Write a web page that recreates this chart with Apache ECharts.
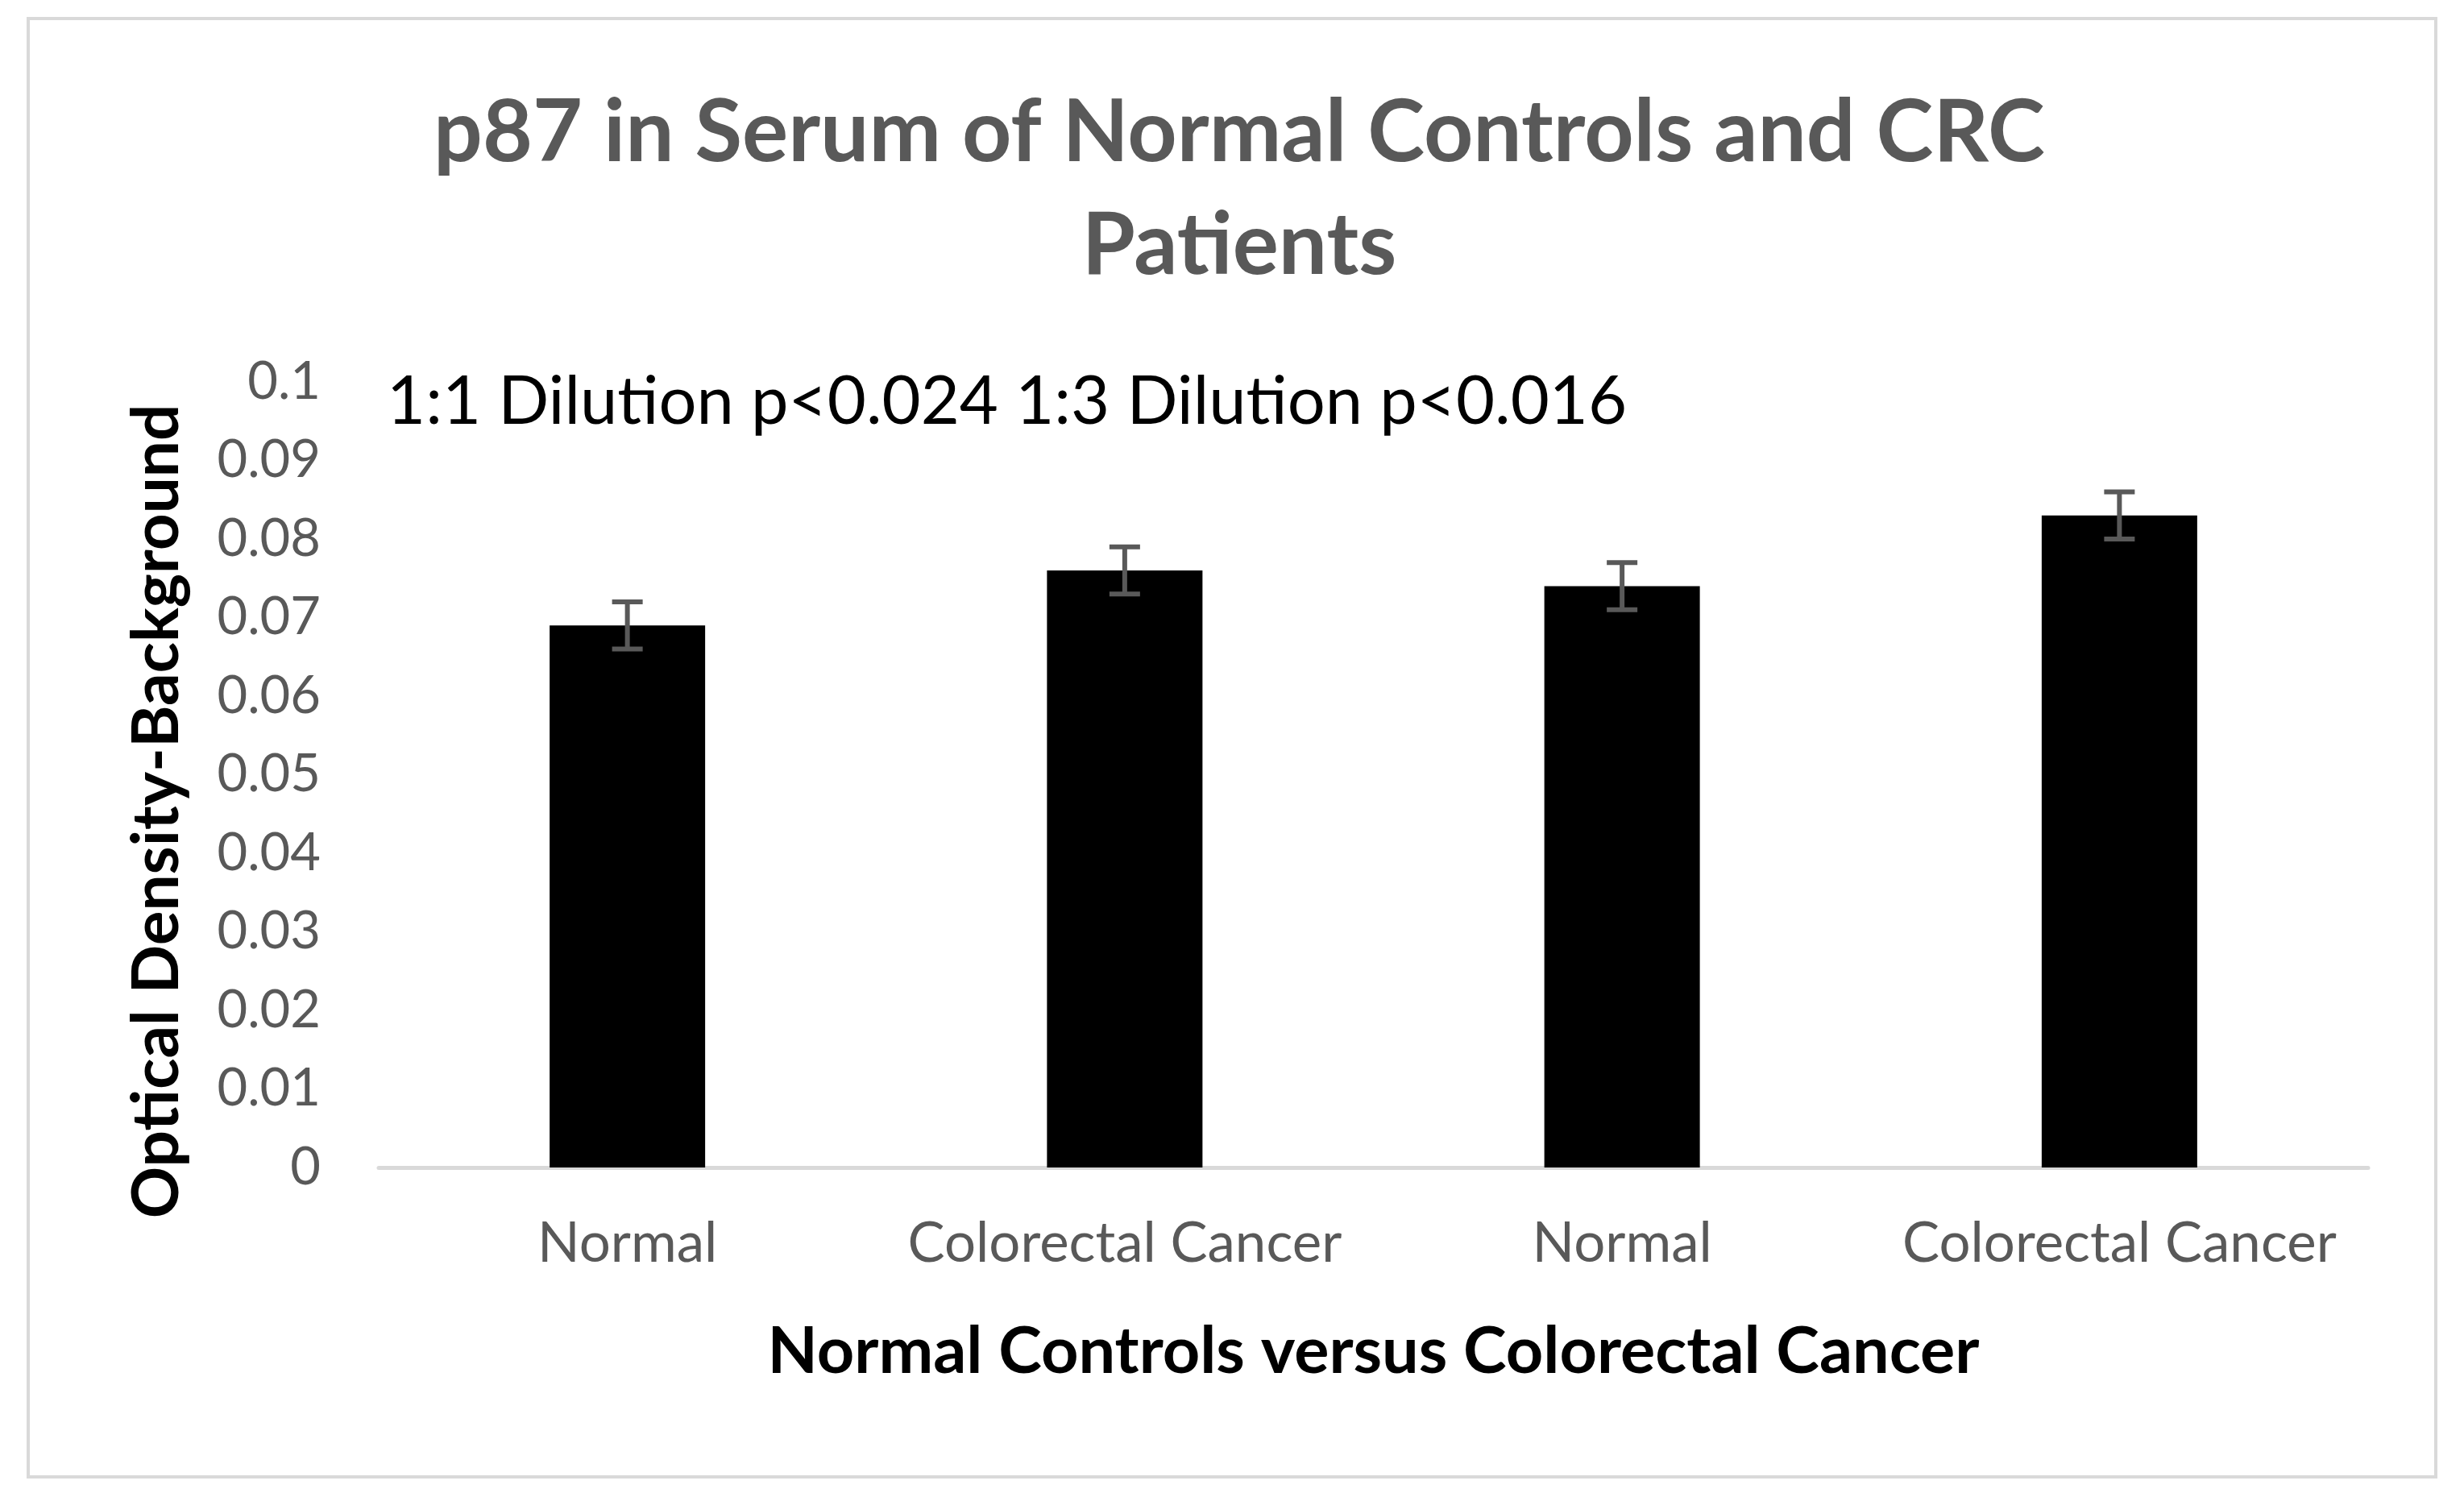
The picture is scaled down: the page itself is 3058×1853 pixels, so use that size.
<!DOCTYPE html>
<html>
<head>
<meta charset="utf-8">
<script src="https://cdn.jsdelivr.net/npm/echarts@6/dist/echarts.min.js"></script>
<style>
html,body{margin:0;padding:0;background:#fff;}
#chart{width:3058px;height:1853px;}
</style>
</head>
<body>
<div id="chart"></div>
<script>
var categories = ['Normal', 'Colorectal Cancer', 'Normal', 'Colorectal Cancer'];
var means = [0.069, 0.076, 0.074, 0.083];
var errors = [0.003, 0.003, 0.003, 0.003];
var yTicks = [0, 0.01, 0.02, 0.03, 0.04, 0.05, 0.06, 0.07, 0.08, 0.09, 0.1];
var titleText = 'p87 in Serum of Normal Controls and CRC\nPatients';
var noteText = '1:1 Dilution p<0.024 1:3 Dilution p<0.016';
var xName = 'Normal Controls versus Colorectal Cancer';
var yName = 'Optical Density-Background';

var FONT = 'Lato';
var chart = echarts.init(document.getElementById('chart'), null, {renderer: 'canvas'});

var errData = categories.map(function (c, i) {
  return [i, means[i] - errors[i], means[i] + errors[i]];
});

var option = {
  backgroundColor: '#ffffff',
  animation: false,
  title: {
    text: titleText,
    left: 1533,
    top: 90,
    textAlign: 'center',
    textStyle: {
      fontFamily: FONT,
      fontWeight: 'bold',
      fontSize: 107,
      lineHeight: 140,
      color: '#595959'
    }
  },
  grid: {left: 470, right: 119, top: 474, bottom: 404, containLabel: false},
  xAxis: {
    type: 'category',
    data: categories,
    axisLine: {show: true, lineStyle: {color: '#d9d9d9', width: 5}},
    axisTick: {show: false},
    axisLabel: {
      fontFamily: FONT, fontSize: 69, color: '#595959', margin: 60, interval: 0
    },
    name: xName,
    nameLocation: 'middle',
    nameGap: 188,
    nameTextStyle: {fontFamily: FONT, fontWeight: 'bold', fontSize: 81, color: '#000000'}
  },
  yAxis: {
    type: 'value',
    min: yTicks[0],
    max: yTicks[yTicks.length - 1],
    interval: 0.01,
    splitLine: {show: false},
    axisLine: {show: false},
    axisTick: {show: false},
    axisLabel: {
      fontFamily: FONT, fontSize: 65, color: '#595959', margin: 72,
      formatter: function (v) { return String(parseFloat(v.toFixed(3))); }
    }
  },
  graphic: [
    {
      type: 'rect',
      shape: {x: 35, y: 23, width: 2988, height: 1810},
      style: {fill: 'none', stroke: '#d9d9d9', lineWidth: 4},
      silent: true
    },
    {
      type: 'text',
      left: 480,
      top: 458,
      style: {text: noteText, font: '83px Lato', fill: '#000000'}
    },
    {
      type: 'text',
      x: 195,
      y: 1007,
      rotation: Math.PI / 2,
      style: {
        text: yName, font: 'bold 80px Lato', fill: '#000000',
        align: 'center', verticalAlign: 'middle'
      }
    }
  ],
  series: [
    {
      type: 'bar',
      data: means,
      barWidth: 193,
      itemStyle: {color: '#000000'}
    },
    {
      type: 'custom',
      data: errData,
      z: 10,
      renderItem: function (params, api) {
        var x = api.value(0);
        var lo = api.coord([x, api.value(1)]);
        var hi = api.coord([x, api.value(2)]);
        var hw = 19;
        var st = {stroke: '#595959', lineWidth: 6};
        return {
          type: 'group',
          children: [
            {type: 'line', shape: {x1: lo[0], y1: lo[1], x2: hi[0], y2: hi[1]}, style: st},
            {type: 'line', shape: {x1: hi[0] - hw, y1: hi[1], x2: hi[0] + hw, y2: hi[1]}, style: st},
            {type: 'line', shape: {x1: lo[0] - hw, y1: lo[1], x2: lo[0] + hw, y2: lo[1]}, style: st}
          ]
        };
      }
    }
  ]
};
chart.setOption(option);
</script>
</body>
</html>
